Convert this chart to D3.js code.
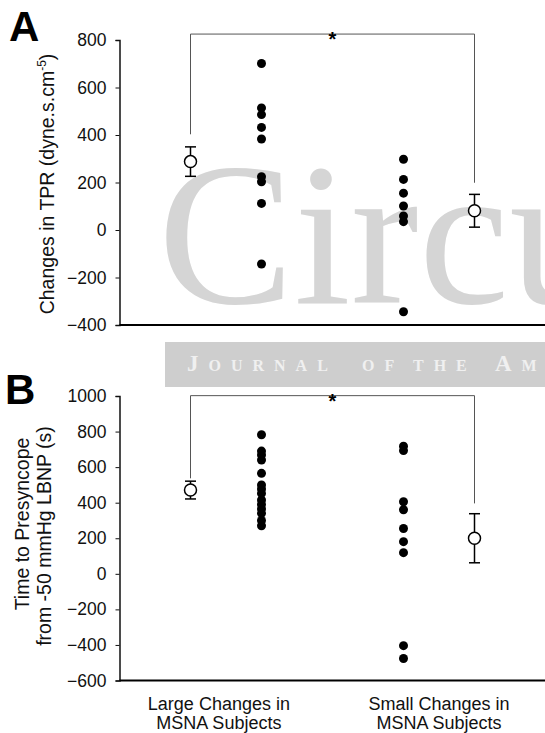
<!DOCTYPE html>
<html><head><meta charset="utf-8">
<script src="https://cdn.jsdelivr.net/npm/d3@7"></script>
<style>body{margin:0;background:#fff}svg{display:block}text{font-family:"Liberation Sans",Arial,sans-serif}</style>
</head><body>
<script>
// ---- data ----
const groupPos = [1, 2, 4, 5];            // x slots: Large mean, Large pts, Small pts, Small mean
const categoryLabels = [["Large Changes in","MSNA Subjects"],["Small Changes in","MSNA Subjects"]];
const categoryLabelPos = [1.4, 4.5];

const tprLarge = [701, 514, 486, 432, 383, 224, 203, 112, -143];
const tprSmall = [298, 213, 155, 101, 59, 35, -344];
const tprMeans = [288, 81];
const tprSE = [62, 69];
const tprTicks = [-400, -200, 0, 200, 400, 600, 800];

const timeLarge = [782, 690, 668, 640, 565, 500, 477, 452, 415, 390, 365, 340, 300, 270];
const timeSmall = [718, 693, 405, 360, 255, 181, 119, -404, -476];
const timeMeans = [471, 200];
const timeSE = [50, 138];
const timeTicks = [-600, -400, -200, 0, 200, 400, 600, 800, 1000];

const W = 545, H = 733;
const svg = d3.select("body").append("svg").attr("width", W).attr("height", H);

// ---- watermark ----
svg.append("text").attr("x", 158).attr("y", 303)
  .style("font-family", '"Liberation Serif","Times New Roman",serif')
  .style("font-size", "204px").attr("fill", "#d5d5d5").text("Circu");
svg.append("rect").attr("x", 165).attr("y", 342).attr("width", W - 165).attr("height", 45).attr("fill", "#cecece");
const jw = [["Journal", 187], ["of", 362], ["the", 413], ["Am", 495]];
jw.forEach(([t, x]) => {
  svg.append("text").attr("x", x).attr("y", 371)
    .style("font-family", '"Liberation Serif","Times New Roman",serif')
    .style("font-size", "23px").style("font-variant", "small-caps").style("font-weight", "bold")
    .style("letter-spacing", "10px").attr("fill", "#f0f0f0").text(t);
});

const x = d3.scaleLinear().domain([0, 6]).range([119.5, 545.5]);

function panel(cfg) {
  const y = d3.scaleLinear().domain(cfg.domain).range([cfg.bottom, cfg.top]);
  const g = svg.append("g");
  // y axis
  const ax = g.append("g").attr("transform", `translate(${x(0)},0)`)
    .call(d3.axisLeft(y).tickValues(cfg.ticks).tickSize(4).tickPadding(9).tickFormat(d3.format("d")));
  ax.select(".domain").attr("stroke", "#111").attr("stroke-width", 1.5);
  ax.selectAll(".tick line").attr("stroke", "#111");
  ax.selectAll(".tick text").style("font-size", "17.5px").attr("fill", "#111")
    .style("font-family", '"Liberation Sans",Arial,sans-serif');
  // x axis line
  g.append("line").attr("x1", x(0)).attr("x2", W).attr("y1", y(cfg.domain[0])).attr("y2", y(cfg.domain[0]))
    .attr("stroke", "#000").attr("stroke-width", 2.2);
  // bracket
  const bt = y(cfg.bracketTop);
  g.append("path").attr("fill", "none").attr("stroke", "#555").attr("stroke-width", 1)
    .attr("d", `M${x(groupPos[0])},${y(cfg.bracketL)}V${bt}H${x(groupPos[3])}V${y(cfg.bracketR)}`);
  g.append("text").attr("x", (x(groupPos[0]) + x(groupPos[3])) / 2).attr("y", bt + 12)
    .attr("text-anchor", "middle").style("font-size", "20px").style("font-weight", "bold").text("*");
  // points
  [[cfg.large, groupPos[1]], [cfg.small, groupPos[2]]].forEach(([vals, p]) => {
    g.selectAll(null).data(vals).enter().append("circle")
      .attr("cx", x(p)).attr("cy", d => y(d)).attr("r", 4.5).attr("fill", "#000");
  });
  // means with error bars
  [[0, groupPos[0]], [1, groupPos[3]]].forEach(([i, p]) => {
    const m = cfg.means[i], s = cfg.se[i], cx = x(p);
    g.append("line").attr("x1", cx).attr("x2", cx).attr("y1", y(m + s)).attr("y2", y(m - s)).attr("stroke", "#000").attr("stroke-width", 1.5);
    [m + s, m - s].forEach(v => g.append("line").attr("x1", cx - 5.5).attr("x2", cx + 5.5).attr("y1", y(v)).attr("y2", y(v)).attr("stroke", "#000").attr("stroke-width", 1.5));
    g.append("circle").attr("cx", cx).attr("cy", y(m)).attr("r", 6).attr("fill", "#fff").attr("stroke", "#000").attr("stroke-width", 1.5);
  });
  return { y, g };
}

// Panel A
panel({ domain: [-400, 800], top: 40, bottom: 325, ticks: tprTicks, large: tprLarge, small: tprSmall,
  means: tprMeans, se: tprSE, bracketTop: 825, bracketL: 403, bracketR: 199 });
svg.append("text").attr("x", 9).attr("y", 41).style("font-size", "42px").style("font-weight", "bold").text("A");
const ta = svg.append("text").attr("transform", "translate(54,184) rotate(-90)").attr("text-anchor", "middle")
  .style("font-size", "19.5px").attr("fill", "#111");
ta.append("tspan").text("Changes in TPR (dyne.s.cm");
ta.append("tspan").attr("dy", -8).style("font-size", "12px").text("-5");
ta.append("tspan").attr("dy", 8).text(")");

// Panel B
panel({ domain: [-600, 1000], top: 396, bottom: 680.5, ticks: timeTicks, large: timeLarge, small: timeSmall,
  means: timeMeans, se: timeSE, bracketTop: 1002, bracketL: 537, bracketR: 396 });
svg.append("text").attr("x", 5).attr("y", 404).style("font-size", "42px").style("font-weight", "bold").text("B");
svg.append("text").attr("transform", "translate(29,524) rotate(-90)").attr("text-anchor", "middle")
  .style("font-size", "19.5px").attr("fill", "#111").text("Time to Presyncope");
svg.append("text").attr("transform", "translate(51,536) rotate(-90)").attr("text-anchor", "middle")
  .style("font-size", "19.5px").attr("fill", "#111").text("from -50 mmHg LBNP (s)");

// category labels
categoryLabels.forEach((lines, i) => {
  const t = svg.append("text").attr("text-anchor", "middle").style("font-size", "18px").attr("fill", "#111");
  lines.forEach((l, j) => t.append("tspan").attr("x", x(categoryLabelPos[i])).attr("y", 710 + j * 18.5).text(l));
});
</script>
</body></html>
